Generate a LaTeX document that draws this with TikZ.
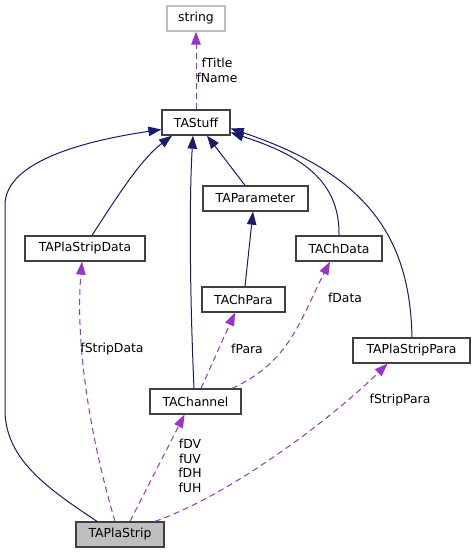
\documentclass[tikz,border=0pt]{standalone}
\usepackage{fontspec}
\setmainfont{DejaVu Sans}
\usetikzlibrary{
	arrows.meta,
	calc
}
\definecolor{InheritNavy}{HTML}{191970}
\definecolor{UsageOrchid}{HTML}{9A32CD}
\definecolor{BoxInk}{HTML}{404040}
\definecolor{ExternGrey}{HTML}{BFBFBF}
\definecolor{FocusFill}{HTML}{BFBFBF}

\begin{document}
\begin{tikzpicture}[
 x=1pt,y=-1pt,
 font=\fontsize{12.4}{14.6}\selectfont,
 classbox/.style={draw=BoxInk,fill=white,line width=1.3pt,minimum height=25pt,
   inner sep=0pt,align=center},
 externbox/.style={classbox,draw=ExternGrey},
 focusbox/.style={classbox,fill=FocusFill},
 inherit/.style={-{Triangle[length=13pt,width=9.5pt]},draw=InheritNavy,line width=1pt},
 usage/.style={-{Triangle[length=13pt,width=9.5pt]},draw=UsageOrchid,line width=1pt,
   dash pattern=on 6pt off 4pt},
 rolelabel/.style={align=center,inner sep=0pt}
]
 \useasboundingbox (0,0) rectangle (475,553);
 \node[externbox,minimum width=58pt] (string) at (196,18.5) {string};
 \node[classbox,minimum width=68pt] (stuff) at (196,122.5) {TAStuff};
 \node[classbox,minimum width=105pt] (parameter) at (255.5,198.5) {TAParameter};
 \node[classbox,minimum width=120pt] (stripdata) at (85,248.5) {TAPlaStripData};
 \node[classbox,minimum width=86pt] (chdata) at (339,248.5) {TAChData};
 \node[classbox,minimum width=83pt] (chpara) at (243.5,299.5) {TAChPara};
 \node[classbox,minimum width=117pt] (strippara) at (411.5,350.5) {TAPlaStripPara};
 \node[classbox,minimum width=91pt] (channel) at (195.5,401.5) {TAChannel};
 \node[focusbox,minimum width=88pt] (plastrip) at (120,534.5) {TAPlaStrip};
 % inheritance
 \draw[inherit] ($(plastrip.north)+(-23,0)$) .. controls (50,490) and (5,460) .. (5,410)
   -- (5,205) .. controls (5,160) and (90,140) .. ($(stuff.west)+(0,7)$);
 \draw[inherit] ($(stripdata.north)+(7,0)$) .. controls (115,200) and (140,160)
   .. ($(stuff.south)+(-24,0)$);
 \draw[inherit] ($(channel.north)+(-1.5,0)$) .. controls (190,300) and (189,200)
   .. ($(stuff.south)+(-3,0)$);
 \draw[inherit] ($(parameter.north)+(-10.5,0)$) -- ($(stuff.south)+(11,0)$);
 \draw[inherit] (chdata.north) .. controls (340,180) and (300,155)
   .. ($(stuff.east)+(0,10)$);
 \draw[inherit] ($(strippara.north)+(0.5,0)$) .. controls (410,240) and (370,175)
   .. ($(stuff.east)+(0,6)$);
 \draw[inherit] ($(chpara.north)+(1.5,0)$) -- ($(parameter.south)+(-2.5,0)$);
 % usage
 \draw[usage] (stuff.north) -- node[rolelabel,right=0pt,xshift=-0pt]{fTitle\\fName}
   (string.south);
 \draw[usage] ($(plastrip.north)+(-5,0)$) .. controls (85,420) and (76,330)
   .. ($(stripdata.south)+(-3,0)$);
 \draw[usage] ($(plastrip.north)+(10,0)$) -- ($(channel.south)+(-11,0)$);
 \draw[usage] ($(plastrip.north)+(35,0)$) .. controls (230,495) and (330,420)
   .. ($(strippara.south)+(-24,0)$);
 \draw[usage] ($(channel.north)+(5.5,0)$) -- ($(chpara.south)+(-8.5,0)$);
 \draw[usage] ($(channel.north)+(36.5,0)$) .. controls (290,362) and (300,320)
   .. ($(chdata.south)+(-9,0)$);
 \node[rolelabel] (lblstripdata) at (112,349) {fStripData};
 \node[rolelabel] (lblchannel) at (190,466) {fDV\\fUV\\fDH\\fUH};
 \node[rolelabel] (lblstrippara) at (400,400) {fStripPara};
 \node[rolelabel] (lblpara) at (247,349) {fPara};
 \node[rolelabel] (lbldata) at (345,298) {fData};
\end{tikzpicture}
\end{document}
